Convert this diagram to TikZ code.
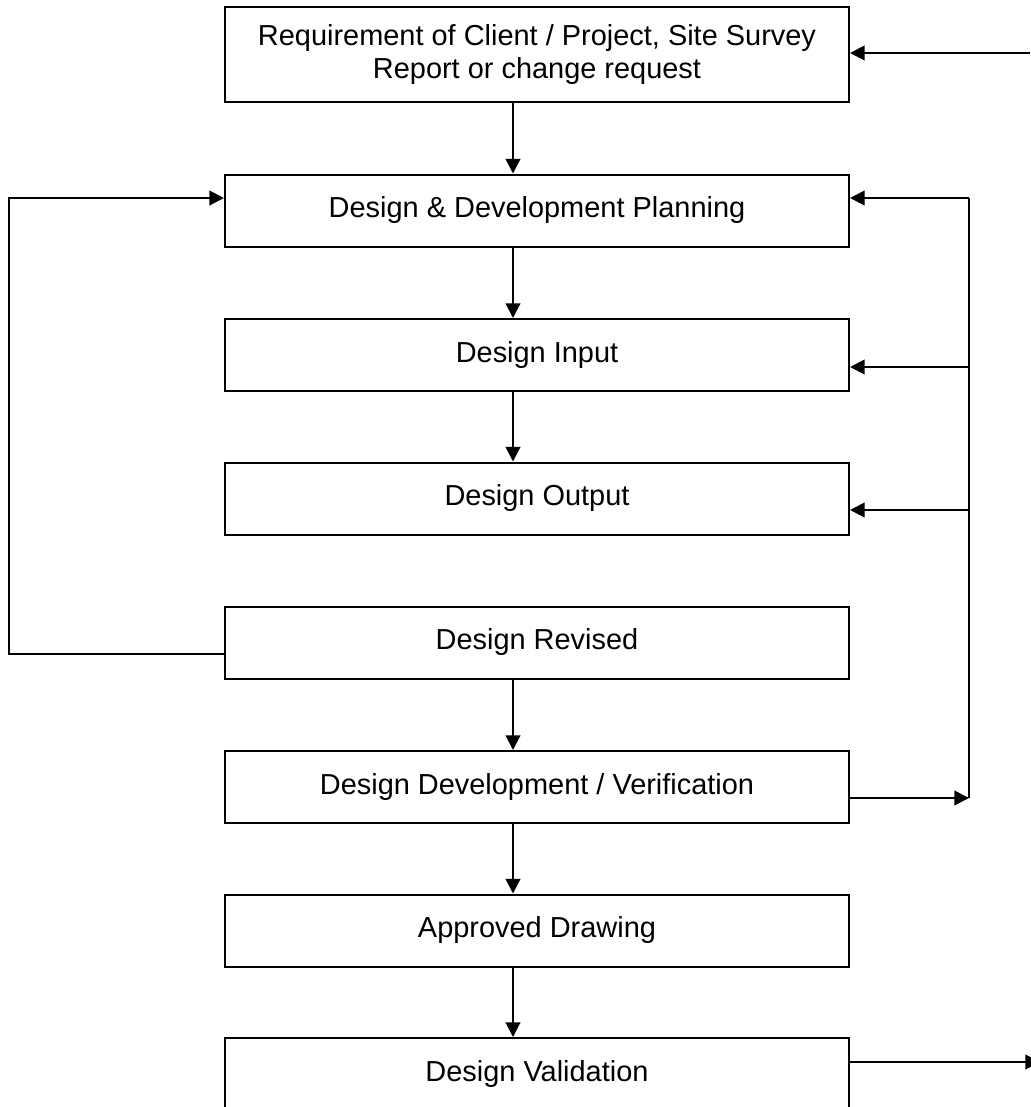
\documentclass[tikz,border=0pt]{standalone}
\usepackage{fontspec}
\setmainfont{Liberation Sans}
\usetikzlibrary{arrows.meta}

\begin{document}
\begin{tikzpicture}[x=0.75pt,y=-0.75pt,>={Triangle[length=11pt,width=11pt]},line width=1.5pt,
  font=\fontsize{21.7}{25}\selectfont,
  stage/.style={draw,minimum width=468pt,minimum height=54pt,align=center,inner sep=0pt}]
  \useasboundingbox (0,0) rectangle (1031,1107);
  % ---------------- main column of stages
  \node[stage,minimum height=71pt] (req) at (537,54.5)
     {Requirement of Client / Project, Site Survey\\Report or change request};
  \node[stage] (plan) at (537,210.5) {Design \& Development Planning};
  \node[stage] (input) at (537,355) {Design Input};
  \node[stage] (output) at (537,498.5) {Design Output};
  \node[stage] (revised) at (537,642.5) {Design Revised};
  \node[stage] (verif) at (537,787) {Design Development / Verification};
  \node[stage] (approved) at (537,930.5) {Approved Drawing};
  \node[stage] (valid) at (537,1074) {Design Validation};
  % ---------------- downward arrows
  \coordinate (spine) at (513,0);
  \draw[->] (req.south -| spine) -- (plan.north -| spine);
  \draw[->] (plan.south -| spine) -- (input.north -| spine);
  \draw[->] (input.south -| spine) -- (output.north -| spine);
  \draw[->] (revised.south -| spine) -- (verif.north -| spine);
  \draw[->] (verif.south -| spine) -- (approved.north -| spine);
  \draw[->] (approved.south -| spine) -- (valid.north -| spine);
  % ---------------- right feedback rail
  \coordinate (r1) at (969,198);
  \coordinate (r2) at (969,367);
  \coordinate (r3) at (969,510);
  \coordinate (r4) at (969,798);
  \draw[->] (r4 -| verif.east) -- (r4);
  \draw (r4) -- (r1);
  \draw[->] (r1) -- (r1 -| plan.east);
  \draw[->] (r2) -- (r2 -| input.east);
  \draw[->] (r3) -- (r3 -| output.east);
  % ---------------- left loop back to planning
  \coordinate (l1) at (9,654);
  \coordinate (l2) at (9,198);
  \draw[->] (l1 -| revised.west) -- (l1) -- (l2) -- (l2 -| plan.west);
  % ---------------- incoming and outgoing ends
  \coordinate (inlet) at (1030,53);
  \coordinate (outlet) at (1040,1062);
  \draw[->] (inlet) -- (inlet -| req.east);
  \draw[->] (outlet -| valid.east) -- (outlet);
\end{tikzpicture}
\end{document}
